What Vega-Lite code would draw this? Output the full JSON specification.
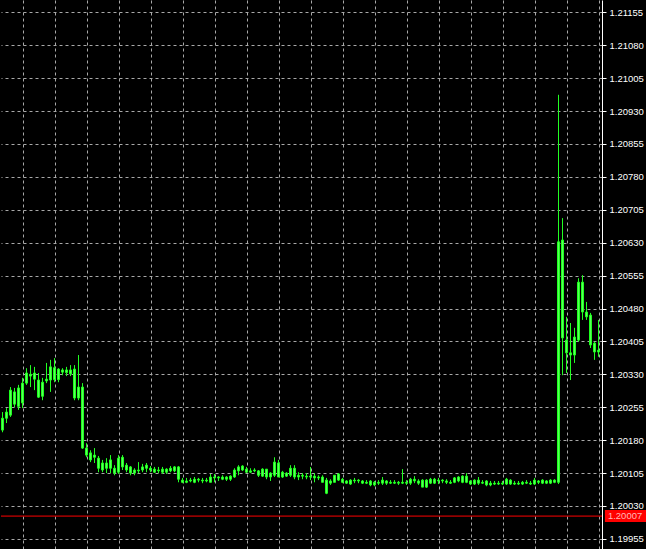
{
  "$schema": "https://vega.github.io/schema/vega-lite/v6.json",
  "width": 601,
  "height": 549,
  "padding": 0,
  "autosize": {"type": "pad"},
  "background": "#000000",
  "datasets": {
    "bars": [
      {"i":0,"o":1.20203,"h":1.20244,"l":1.20198,"c":1.20230},
      {"i":1,"o":1.20230,"h":1.20253,"l":1.20219,"c":1.20244},
      {"i":2,"o":1.20237,"h":1.20301,"l":1.20233,"c":1.20294},
      {"i":3,"o":1.20290,"h":1.20299,"l":1.20255,"c":1.20262},
      {"i":4,"o":1.20257,"h":1.20306,"l":1.20249,"c":1.20299},
      {"i":5,"o":1.20265,"h":1.20322,"l":1.20253,"c":1.20310},
      {"i":6,"o":1.20310,"h":1.20344,"l":1.20306,"c":1.20333},
      {"i":7,"o":1.20330,"h":1.20351,"l":1.20301,"c":1.20326},
      {"i":8,"o":1.20319,"h":1.20347,"l":1.20294,"c":1.20333},
      {"i":9,"o":1.20317,"h":1.20333,"l":1.20276,"c":1.20278},
      {"i":10,"o":1.20280,"h":1.20322,"l":1.20271,"c":1.20312},
      {"i":11,"o":1.20315,"h":1.20356,"l":1.20310,"c":1.20319},
      {"i":12,"o":1.20317,"h":1.20363,"l":1.20290,"c":1.20347},
      {"i":13,"o":1.20318,"h":1.20367,"l":1.20312,"c":1.20345},
      {"i":14,"o":1.20342,"h":1.20344,"l":1.20312,"c":1.20318},
      {"i":15,"o":1.20335,"h":1.20344,"l":1.20328,"c":1.20340},
      {"i":16,"o":1.20340,"h":1.20347,"l":1.20326,"c":1.20334},
      {"i":17,"o":1.20331,"h":1.20351,"l":1.20326,"c":1.20340},
      {"i":18,"o":1.20342,"h":1.20351,"l":1.20271,"c":1.20276},
      {"i":19,"o":1.20276,"h":1.20374,"l":1.20271,"c":1.20301},
      {"i":20,"o":1.20301,"h":1.20310,"l":1.20160,"c":1.20162},
      {"i":21,"o":1.20162,"h":1.20173,"l":1.20141,"c":1.20146},
      {"i":22,"o":1.20151,"h":1.20157,"l":1.20130,"c":1.20135},
      {"i":23,"o":1.20141,"h":1.20162,"l":1.20128,"c":1.20146},
      {"i":24,"o":1.20139,"h":1.20144,"l":1.20107,"c":1.20116},
      {"i":25,"o":1.20112,"h":1.20135,"l":1.20107,"c":1.20128},
      {"i":26,"o":1.20128,"h":1.20139,"l":1.20105,"c":1.20116},
      {"i":27,"o":1.20116,"h":1.20146,"l":1.20105,"c":1.20135},
      {"i":28,"o":1.20116,"h":1.20123,"l":1.20100,"c":1.20105},
      {"i":29,"o":1.20107,"h":1.20146,"l":1.20103,"c":1.20139},
      {"i":30,"o":1.20141,"h":1.20146,"l":1.20112,"c":1.20119},
      {"i":31,"o":1.20123,"h":1.20128,"l":1.20107,"c":1.20112},
      {"i":32,"o":1.20105,"h":1.20121,"l":1.20100,"c":1.20119},
      {"i":33,"o":1.20112,"h":1.20116,"l":1.20100,"c":1.20105},
      {"i":34,"o":1.20110,"h":1.20130,"l":1.20105,"c":1.20112},
      {"i":35,"o":1.20112,"h":1.20126,"l":1.20107,"c":1.20119},
      {"i":36,"o":1.20116,"h":1.20128,"l":1.20107,"c":1.20123},
      {"i":37,"o":1.20116,"h":1.20121,"l":1.20107,"c":1.20112},
      {"i":38,"o":1.20114,"h":1.20119,"l":1.20105,"c":1.20107},
      {"i":39,"o":1.20110,"h":1.20119,"l":1.20105,"c":1.20112},
      {"i":40,"o":1.20107,"h":1.20119,"l":1.20103,"c":1.20114},
      {"i":41,"o":1.20114,"h":1.20116,"l":1.20103,"c":1.20107},
      {"i":42,"o":1.20110,"h":1.20121,"l":1.20107,"c":1.20116},
      {"i":43,"o":1.20110,"h":1.20121,"l":1.20107,"c":1.20119},
      {"i":44,"o":1.20119,"h":1.20121,"l":1.20084,"c":1.20091},
      {"i":45,"o":1.20089,"h":1.20094,"l":1.20082,"c":1.20084},
      {"i":46,"o":1.20084,"h":1.20094,"l":1.20082,"c":1.20087},
      {"i":47,"o":1.20087,"h":1.20094,"l":1.20084,"c":1.20089},
      {"i":48,"o":1.20084,"h":1.20096,"l":1.20082,"c":1.20091},
      {"i":49,"o":1.20091,"h":1.20094,"l":1.20084,"c":1.20089},
      {"i":50,"o":1.20089,"h":1.20094,"l":1.20082,"c":1.20087},
      {"i":51,"o":1.20087,"h":1.20094,"l":1.20084,"c":1.20089},
      {"i":52,"o":1.20084,"h":1.20103,"l":1.20084,"c":1.20096},
      {"i":53,"o":1.20096,"h":1.20103,"l":1.20084,"c":1.20094},
      {"i":54,"o":1.20094,"h":1.20098,"l":1.20087,"c":1.20096},
      {"i":55,"o":1.20091,"h":1.20100,"l":1.20089,"c":1.20096},
      {"i":56,"o":1.20096,"h":1.20098,"l":1.20087,"c":1.20091},
      {"i":57,"o":1.20091,"h":1.20100,"l":1.20087,"c":1.20098},
      {"i":58,"o":1.20096,"h":1.20116,"l":1.20094,"c":1.20112},
      {"i":59,"o":1.20110,"h":1.20123,"l":1.20100,"c":1.20119},
      {"i":60,"o":1.20112,"h":1.20123,"l":1.20110,"c":1.20121},
      {"i":61,"o":1.20114,"h":1.20119,"l":1.20105,"c":1.20107},
      {"i":62,"o":1.20107,"h":1.20116,"l":1.20105,"c":1.20110},
      {"i":63,"o":1.20110,"h":1.20116,"l":1.20107,"c":1.20112},
      {"i":64,"o":1.20110,"h":1.20112,"l":1.20096,"c":1.20100},
      {"i":65,"o":1.20098,"h":1.20116,"l":1.20096,"c":1.20114},
      {"i":66,"o":1.20114,"h":1.20114,"l":1.20091,"c":1.20096},
      {"i":67,"o":1.20096,"h":1.20107,"l":1.20087,"c":1.20105},
      {"i":68,"o":1.20100,"h":1.20141,"l":1.20096,"c":1.20130},
      {"i":69,"o":1.20128,"h":1.20135,"l":1.20096,"c":1.20096},
      {"i":70,"o":1.20096,"h":1.20110,"l":1.20094,"c":1.20107},
      {"i":71,"o":1.20105,"h":1.20107,"l":1.20096,"c":1.20098},
      {"i":72,"o":1.20100,"h":1.20123,"l":1.20096,"c":1.20116},
      {"i":73,"o":1.20116,"h":1.20123,"l":1.20091,"c":1.20096},
      {"i":74,"o":1.20096,"h":1.20107,"l":1.20089,"c":1.20100},
      {"i":75,"o":1.20100,"h":1.20105,"l":1.20091,"c":1.20098},
      {"i":76,"o":1.20098,"h":1.20105,"l":1.20091,"c":1.20096},
      {"i":77,"o":1.20096,"h":1.20119,"l":1.20089,"c":1.20098},
      {"i":78,"o":1.20098,"h":1.20105,"l":1.20084,"c":1.20094},
      {"i":79,"o":1.20094,"h":1.20100,"l":1.20089,"c":1.20096},
      {"i":80,"o":1.20096,"h":1.20100,"l":1.20084,"c":1.20084},
      {"i":81,"o":1.20089,"h":1.20094,"l":1.20057,"c":1.20059},
      {"i":82,"o":1.20082,"h":1.20091,"l":1.20078,"c":1.20087},
      {"i":83,"o":1.20084,"h":1.20100,"l":1.20084,"c":1.20100},
      {"i":84,"o":1.20089,"h":1.20105,"l":1.20087,"c":1.20103},
      {"i":85,"o":1.20091,"h":1.20094,"l":1.20082,"c":1.20084},
      {"i":86,"o":1.20082,"h":1.20089,"l":1.20080,"c":1.20087},
      {"i":87,"o":1.20089,"h":1.20091,"l":1.20078,"c":1.20080},
      {"i":88,"o":1.20087,"h":1.20094,"l":1.20082,"c":1.20089},
      {"i":89,"o":1.20089,"h":1.20091,"l":1.20082,"c":1.20087},
      {"i":90,"o":1.20087,"h":1.20089,"l":1.20080,"c":1.20082},
      {"i":91,"o":1.20082,"h":1.20089,"l":1.20080,"c":1.20084},
      {"i":92,"o":1.20087,"h":1.20089,"l":1.20075,"c":1.20078},
      {"i":93,"o":1.20078,"h":1.20087,"l":1.20075,"c":1.20084},
      {"i":94,"o":1.20084,"h":1.20089,"l":1.20078,"c":1.20082},
      {"i":95,"o":1.20082,"h":1.20096,"l":1.20078,"c":1.20089},
      {"i":96,"o":1.20087,"h":1.20089,"l":1.20078,"c":1.20082},
      {"i":97,"o":1.20082,"h":1.20089,"l":1.20080,"c":1.20084},
      {"i":98,"o":1.20084,"h":1.20089,"l":1.20080,"c":1.20082},
      {"i":99,"o":1.20082,"h":1.20087,"l":1.20078,"c":1.20084},
      {"i":100,"o":1.20084,"h":1.20114,"l":1.20080,"c":1.20082},
      {"i":101,"o":1.20082,"h":1.20089,"l":1.20078,"c":1.20084},
      {"i":102,"o":1.20082,"h":1.20094,"l":1.20078,"c":1.20091},
      {"i":103,"o":1.20091,"h":1.20098,"l":1.20082,"c":1.20087},
      {"i":104,"o":1.20087,"h":1.20091,"l":1.20078,"c":1.20082},
      {"i":105,"o":1.20089,"h":1.20091,"l":1.20073,"c":1.20073},
      {"i":106,"o":1.20073,"h":1.20091,"l":1.20071,"c":1.20089},
      {"i":107,"o":1.20091,"h":1.20094,"l":1.20080,"c":1.20082},
      {"i":108,"o":1.20082,"h":1.20094,"l":1.20080,"c":1.20091},
      {"i":109,"o":1.20089,"h":1.20094,"l":1.20080,"c":1.20087},
      {"i":110,"o":1.20087,"h":1.20091,"l":1.20082,"c":1.20089},
      {"i":111,"o":1.20087,"h":1.20091,"l":1.20080,"c":1.20084},
      {"i":112,"o":1.20084,"h":1.20089,"l":1.20080,"c":1.20082},
      {"i":113,"o":1.20084,"h":1.20096,"l":1.20082,"c":1.20094},
      {"i":114,"o":1.20087,"h":1.20098,"l":1.20084,"c":1.20096},
      {"i":115,"o":1.20084,"h":1.20100,"l":1.20082,"c":1.20098},
      {"i":116,"o":1.20098,"h":1.20105,"l":1.20082,"c":1.20084},
      {"i":117,"o":1.20087,"h":1.20089,"l":1.20078,"c":1.20080},
      {"i":118,"o":1.20080,"h":1.20091,"l":1.20078,"c":1.20089},
      {"i":119,"o":1.20089,"h":1.20096,"l":1.20078,"c":1.20082},
      {"i":120,"o":1.20082,"h":1.20089,"l":1.20080,"c":1.20084},
      {"i":121,"o":1.20087,"h":1.20089,"l":1.20075,"c":1.20078},
      {"i":122,"o":1.20078,"h":1.20087,"l":1.20075,"c":1.20082},
      {"i":123,"o":1.20082,"h":1.20087,"l":1.20078,"c":1.20080},
      {"i":124,"o":1.20080,"h":1.20087,"l":1.20078,"c":1.20082},
      {"i":125,"o":1.20082,"h":1.20087,"l":1.20078,"c":1.20080},
      {"i":126,"o":1.20080,"h":1.20094,"l":1.20078,"c":1.20091},
      {"i":127,"o":1.20089,"h":1.20091,"l":1.20078,"c":1.20080},
      {"i":128,"o":1.20080,"h":1.20087,"l":1.20078,"c":1.20082},
      {"i":129,"o":1.20082,"h":1.20087,"l":1.20078,"c":1.20080},
      {"i":130,"o":1.20080,"h":1.20087,"l":1.20078,"c":1.20084},
      {"i":131,"o":1.20084,"h":1.20089,"l":1.20080,"c":1.20082},
      {"i":132,"o":1.20082,"h":1.20087,"l":1.20078,"c":1.20080},
      {"i":133,"o":1.20080,"h":1.20094,"l":1.20078,"c":1.20089},
      {"i":134,"o":1.20087,"h":1.20089,"l":1.20080,"c":1.20084},
      {"i":135,"o":1.20082,"h":1.20091,"l":1.20080,"c":1.20089},
      {"i":136,"o":1.20087,"h":1.20089,"l":1.20080,"c":1.20082},
      {"i":137,"o":1.20082,"h":1.20091,"l":1.20080,"c":1.20089},
      {"i":138,"o":1.20089,"h":1.20091,"l":1.20082,"c":1.20084},
      {"i":139,"o":1.20084,"h":1.20967,"l":1.20080,"c":1.20632},
      {"i":140,"o":1.20636,"h":1.20686,"l":1.20328,"c":1.20413},
      {"i":141,"o":1.20408,"h":1.20461,"l":1.20333,"c":1.20379},
      {"i":142,"o":1.20379,"h":1.20447,"l":1.20317,"c":1.20374},
      {"i":143,"o":1.20374,"h":1.20436,"l":1.20356,"c":1.20415},
      {"i":144,"o":1.20408,"h":1.20549,"l":1.20404,"c":1.20540},
      {"i":145,"o":1.20540,"h":1.20556,"l":1.20454,"c":1.20472},
      {"i":146,"o":1.20472,"h":1.20495,"l":1.20454,"c":1.20461},
      {"i":147,"o":1.20465,"h":1.20470,"l":1.20390,"c":1.20397},
      {"i":148,"o":1.20401,"h":1.20404,"l":1.20363,"c":1.20381},
      {"i":149,"o":1.20381,"h":1.20454,"l":1.20370,"c":1.20385}
    ],
    "bid": [{"p": 1.20007, "t": "1.20007"}]
  },
  "config": {
    "view": {"stroke": null},
    "axis": {"gridColor": "#a8a8a8", "gridDash": [3, 3], "gridWidth": 1, "gridOpacity": 1, "title": null},
    "axisY": {"labelOverlap": false, "labelBound": false, "domainColor": "#ffffff", "domainWidth": 1, "tickColor": "#ffffff", "tickSize": 4, "tickWidth": 1,
      "labelColor": "#ffffff", "labelFont": "Liberation Sans", "labelFontSize": 9.5, "labelPadding": 3, "labelBaseline": "middle"}
  },
  "layer": [
    {
      "data": {"name": "bars"},
      "mark": {"type": "rule", "color": "#22ff22", "strokeWidth": 1},
      "encoding": {
        "x": {
          "field": "i", "type": "quantitative",
          "scale": {"domain": [-0.375, 149.875], "nice": false, "zero": false, "padding": 0},
          "axis": {"orient": "bottom", "grid": true, "labels": false, "ticks": false, "domain": false, "title": null, "tickCount": 30,
            "values": [5, 13, 21, 29, 37, 45, 53, 61, 69, 77, 85, 93, 101, 109, 117, 125, 133, 141, 149]}
        },
        "y": {
          "field": "l", "type": "quantitative",
          "scale": {"domain": [1.19932, 1.21183], "nice": false, "zero": false, "padding": 0},
          "axis": {"orient": "right", "title": null, "format": ".5f", "grid": true, "labelOverlap": false, "tickCount": 30,
            "values": [1.19955, 1.2003, 1.20105, 1.2018, 1.20255, 1.2033, 1.20405, 1.2048, 1.20555, 1.2063, 1.20705, 1.2078, 1.20855, 1.2093, 1.21005, 1.2108, 1.21155]}
        },
        "y2": {"field": "h"}
      }
    },
    {
      "data": {"name": "bars"},
      "mark": {"type": "bar", "width": 2, "fill": "#5cff5c", "stroke": "#1cff1c", "strokeWidth": 1},
      "encoding": {
        "x": {"field": "i", "type": "quantitative"},
        "y": {"field": "o", "type": "quantitative"},
        "y2": {"field": "c"}
      }
    },
    {
      "data": {"name": "bid"},
      "mark": {"type": "rule", "color": "#ff0000", "strokeWidth": 1},
      "encoding": {
        "y": {"field": "p", "type": "quantitative"}
      }
    },
    {
      "data": {"name": "bid"},
      "mark": {"type": "rule", "color": "#ff0000", "strokeWidth": 12, "strokeCap": "butt", "clip": false},
      "encoding": {
        "x": {"datum": 150.6},
        "x2": {"datum": 161.6},
        "y": {"field": "p", "type": "quantitative"}
      }
    },
    {
      "data": {"name": "bid"},
      "mark": {"type": "text", "color": "#ffb8b8", "align": "left", "baseline": "middle", "font": "Liberation Sans", "fontSize": 9.5, "dx": 3, "clip": false},
      "encoding": {
        "x": {"datum": 150.6},
        "y": {"field": "p", "type": "quantitative"},
        "text": {"field": "t"}
      }
    }
  ]
}
